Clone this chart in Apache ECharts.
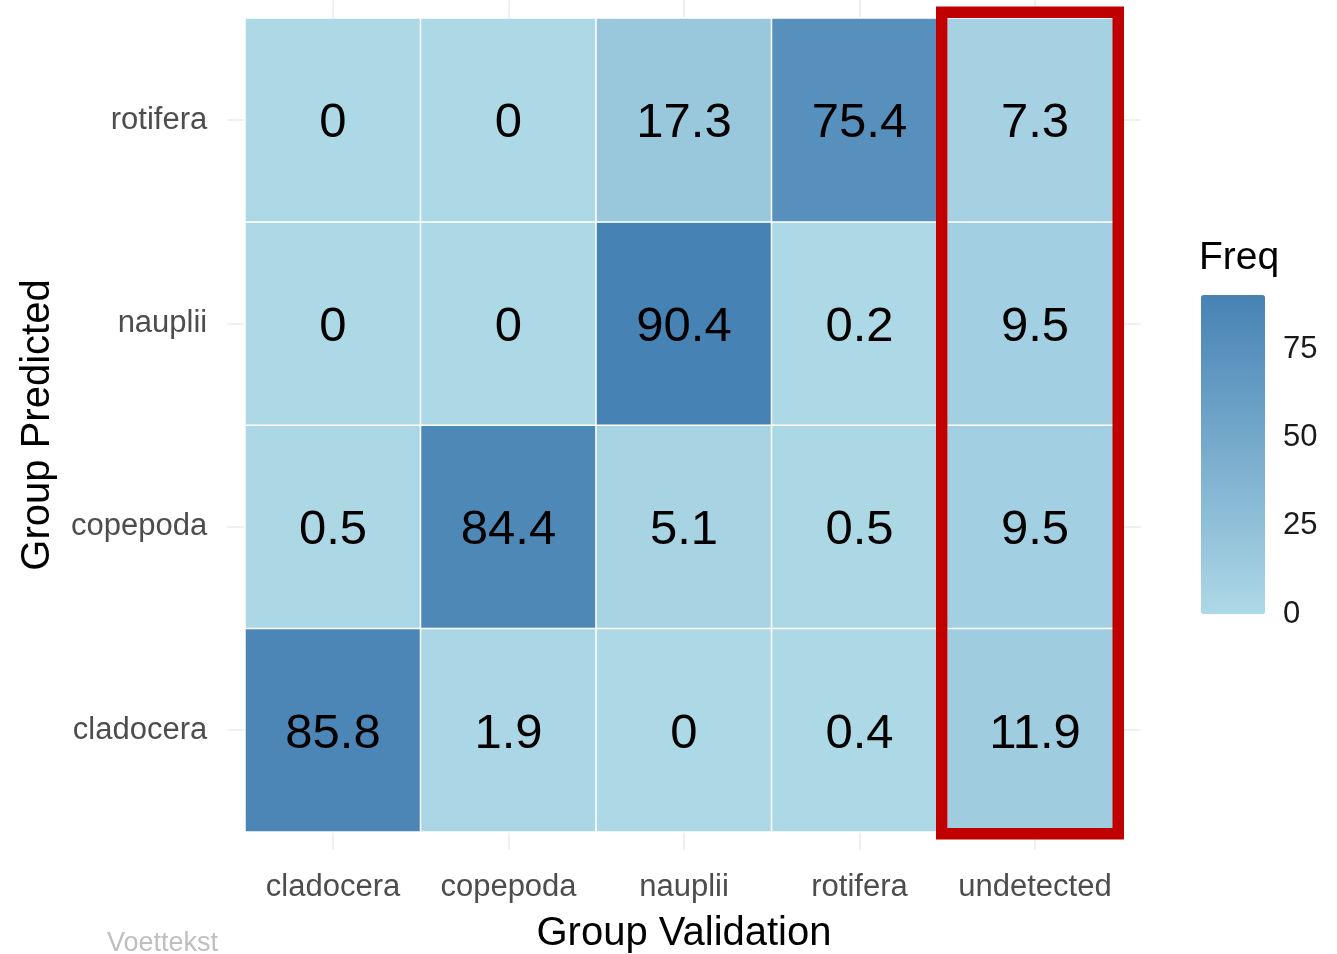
<!DOCTYPE html>
<html>
<head>
<meta charset="utf-8">
<title>Group Predicted vs Group Validation</title>
<script src="https://cdn.jsdelivr.net/npm/echarts@6/dist/echarts.min.js"></script>
<style>
  html, body { margin: 0; padding: 0; background: #fff; }
  #chart { width: 1337px; height: 954px; }
</style>
</head>
<body>
<div id="chart"></div>
<script>
// categories
const validationGroups = ['cladocera', 'copepoda', 'nauplii', 'rotifera', 'undetected']
const predictedGroups = ['cladocera', 'copepoda', 'nauplii', 'rotifera'] // bottom -> top

// Freq per predicted group, one value per validation group
const predCladocera = [85.8, 1.9, 0, 0.4, 11.9]
const predCopepoda  = [0.5, 84.4, 5.1, 0.5, 9.5]
const predNauplii   = [0, 0, 90.4, 0.2, 9.5]
const predRotifera  = [0, 0, 17.3, 75.4, 7.3]

const legendTicks = [0, 25, 50, 75]
const highlightColumn = 'undetected'

const rows = [predCladocera, predCopepoda, predNauplii, predRotifera]
const cells = []
rows.forEach((vals, yi) => vals.forEach((v, xi) => cells.push([xi, yi, v])))
const maxFreq = Math.max(...cells.map(c => c[2]))

const FONT = "Arial, 'Liberation Sans', sans-serif"
const tickGrey = '#ebebeb'

const chart = echarts.init(document.getElementById('chart'), null, { renderer: 'canvas' })

chart.setOption({
  animation: false,
  textStyle: { fontFamily: FONT },
  title: [
    { text: 'Freq', left: 1199, top: 239, padding: 0,
      textStyle: { fontSize: 39, fontWeight: 'normal', color: '#000', fontFamily: FONT } },
    { text: 'Voettekst', left: 107, top: 930, padding: 0,
      textStyle: { fontSize: 27, fontWeight: 'normal', color: '#bfbfbf', fontFamily: FONT } }
  ],
  grid: [
    { left: 245.25, right: 214.25, top: 18.3, bottom: 122.3, outerBoundsMode: 'none', containLabel: false },
    { left: 1201, top: 295, width: 64, height: 319, outerBoundsMode: 'none', containLabel: false }
  ],
  xAxis: [
    {
      type: 'category', data: validationGroups, gridIndex: 0, position: 'bottom',
      axisLine: { show: false },
      axisTick: { show: true, alignWithLabel: true, length: 18, lineStyle: { color: tickGrey, width: 1.5 } },
      axisLabel: { fontSize: 31, color: '#4d4d4d', margin: 40, interval: 0, fontFamily: FONT },
      splitLine: { show: false },
      name: 'Group Validation', nameLocation: 'middle', nameGap: 82,
      nameTextStyle: { fontSize: 40, color: '#000', fontFamily: FONT }
    },
    {
      type: 'category', data: validationGroups, gridIndex: 0, position: 'top',
      axisLine: { show: false },
      axisTick: { show: true, alignWithLabel: true, length: 18, lineStyle: { color: tickGrey, width: 1.5 } },
      axisLabel: { show: false }
    },
    { type: 'value', gridIndex: 1, show: false, min: 0, max: 1 }
  ],
  yAxis: [
    {
      type: 'category', data: predictedGroups, gridIndex: 0, position: 'left',
      axisLine: { show: false },
      axisTick: { show: true, alignWithLabel: true, length: 18, lineStyle: { color: tickGrey, width: 1.5 } },
      axisLabel: { fontSize: 31, color: '#4d4d4d', margin: 38, interval: 0, fontFamily: FONT,
                   padding: [7, 0, 0, 0] },
      name: 'Group Predicted', nameLocation: 'middle', nameGap: 187, nameRotate: 90,
      nameTextStyle: { fontSize: 40, color: '#000', fontFamily: FONT }
    },
    {
      type: 'category', data: predictedGroups, gridIndex: 0, position: 'right',
      axisLine: { show: false },
      axisTick: { show: true, alignWithLabel: true, length: 18, lineStyle: { color: tickGrey, width: 1.5 } },
      axisLabel: { show: false }
    },
    {
      // colour bar scale labels
      type: 'value', gridIndex: 1, position: 'right', min: 0, max: maxFreq,
      axisLine: { show: false },
      splitLine: { show: false },
      axisTick: { show: true, inside: true, length: 11, customValues: legendTicks,
                  lineStyle: { color: '#fff', width: 1.5 } },
      axisLabel: { fontSize: 31, color: '#1a1a1a', margin: 18, customValues: legendTicks, fontFamily: FONT,
                   padding: [10, 0, 0, 0] }
    },
    {
      type: 'value', gridIndex: 1, position: 'left', min: 0, max: maxFreq,
      axisLine: { show: false },
      splitLine: { show: false },
      axisTick: { show: true, inside: true, length: 11, customValues: legendTicks,
                  lineStyle: { color: '#fff', width: 1.5 } },
      axisLabel: { show: false }
    }
  ],
  visualMap: {
    type: 'continuous',
    seriesIndex: 0,
    min: 0, max: maxFreq,
    left: 1201, top: 295,
    itemWidth: 64, itemHeight: 319,
    padding: 0,
    calculable: false,
    showLabel: false,
    text: null,
    inRange: { color: ['#ADD8E6', '#4682B4'] }
  },
  series: [
    {
      type: 'heatmap',
      xAxisIndex: 0, yAxisIndex: 0,
      data: cells,
      itemStyle: { borderColor: '#fff', borderWidth: 1.5 },
      label: {
        show: true, color: '#000', fontSize: 49, fontFamily: FONT, offset: [0, 4],
        formatter: p => String(p.value[2])
      },
      emphasis: { disabled: true }
    },
    {
      // red box around the highlighted validation column
      type: 'custom',
      xAxisIndex: 0, yAxisIndex: 0,
      clip: false, silent: true, z: 10,
      data: [[validationGroups.indexOf(highlightColumn)]],
      renderItem: (params, api) => {
        const xi = api.value(0)
        const top = api.coord([xi, predictedGroups.length - 1])
        const bottom = api.coord([xi, 0])
        const size = api.size([1, 1])
        const x0 = top[0] - size[0] / 2 - 5.5
        const x1 = top[0] + size[0] / 2 - 4.5
        const y0 = top[1] - size[1] / 2 - 6
        const y1 = bottom[1] + size[1] / 2 + 2
        return {
          type: 'rect',
          shape: { x: x0, y: y0, width: x1 - x0, height: y1 - y0 },
          style: { fill: 'none', stroke: '#c00000', lineWidth: 11.5 }
        }
      }
    }
  ]
})

window.addEventListener('resize', () => chart.resize())
</script>
</body>
</html>
